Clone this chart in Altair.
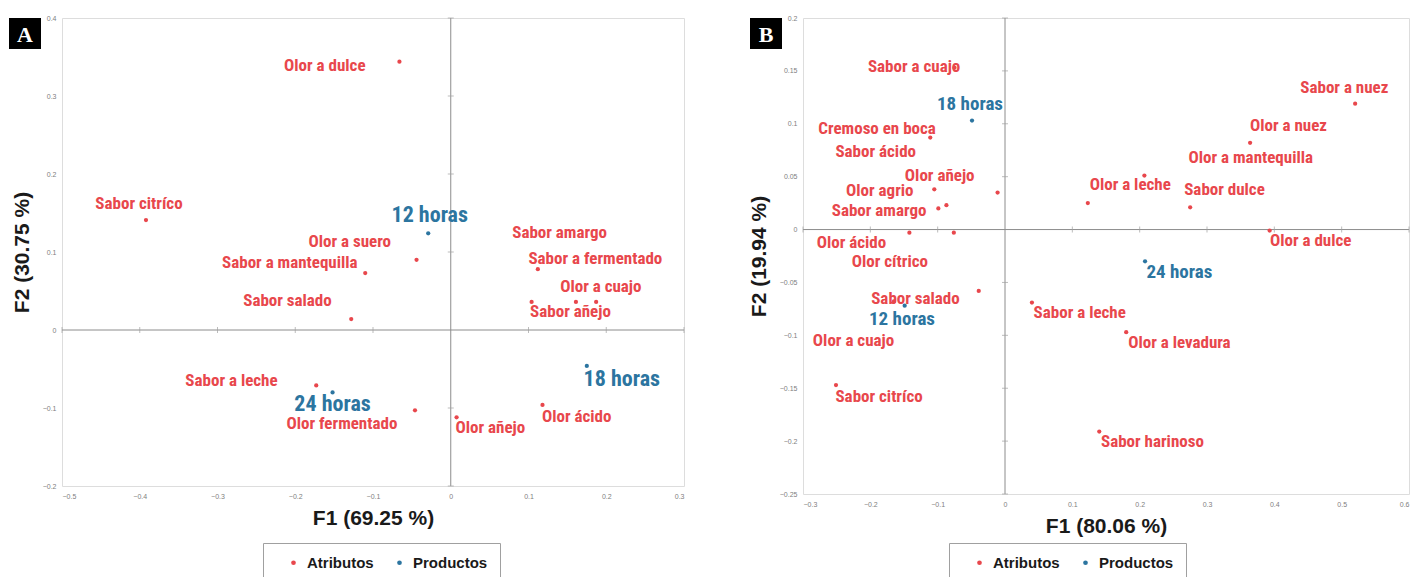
import altair as alt
import pandas as pd

# ---------------- Panel A data ----------------
A_attr_names = ["Olor a dulce", "Sabor citríco", "Olor a suero", "Sabor a mantequilla", "Sabor salado",
                "Sabor amargo", "Sabor a fermentado", "Olor a cuajo", "Sabor añejo",
                "Sabor a leche", "Olor fermentado", "Olor añejo", "Olor ácido"]
A_attr_x = [-0.066, -0.392, -0.044, -0.110, -0.128, 0.161, 0.112, 0.187, 0.104, -0.173, -0.046, 0.0075, 0.118]
A_attr_y = [0.344, 0.141, 0.090, 0.073, 0.014, 0.036, 0.078, 0.036, 0.036, -0.071, -0.103, -0.112, -0.096]
A_attr_lx = [-0.162, -0.401, -0.130, -0.207, -0.210, 0.140, 0.186, 0.193, 0.154, -0.282, -0.140, 0.051, 0.162]
A_attr_ly = [0.339, 0.162, 0.113, 0.086, 0.037, 0.125, 0.091, 0.055, 0.023, -0.066, -0.121, -0.126, -0.111]

A_prod_names = ["12 horas", "18 horas", "24 horas"]
A_prod_x = [-0.029, 0.175, -0.152]
A_prod_y = [0.124, -0.046, -0.080]
A_prod_lx = [-0.027, 0.220, -0.152]
A_prod_ly = [0.147, -0.063, -0.095]

A_xticks = [-0.5, -0.4, -0.3, -0.2, -0.1, 0, 0.1, 0.2, 0.3]
A_yticks = [-0.2, -0.1, 0, 0.1, 0.2, 0.3, 0.4]

# ---------------- Panel B data ----------------
B_attr_names = ["Sabor a cuajo", "Cremoso en boca", "Sabor ácido", "Olor añejo", "Olor agrio", "Sabor amargo",
                "Olor ácido", "Olor cítrico", "Sabor salado", "Olor a cuajo", "Sabor citríco",
                "Sabor a nuez", "Olor a nuez", "Olor a mantequilla", "Olor a leche", "Sabor dulce",
                "Olor a dulce", "Sabor a leche", "Olor a levadura", "Sabor harinoso"]
B_attr_x = [-0.075, -0.111, -0.087, -0.011, -0.105, -0.099, -0.142, -0.076, -0.165, -0.039, -0.251,
            0.520, 0.364, 0.207, 0.123, 0.275, 0.393, 0.040, 0.180, 0.140]
B_attr_y = [0.153, 0.087, 0.023, 0.035, 0.038, 0.020, -0.003, -0.003, -0.068, -0.058, -0.147,
            0.119, 0.082, 0.051, 0.025, 0.021, -0.001, -0.069, -0.097, -0.191]
B_attr_lx = [-0.135, -0.190, -0.192, -0.097, -0.186, -0.187, -0.228, -0.171, -0.133, -0.225, -0.187,
             0.504, 0.421, 0.365, 0.186, 0.326, 0.454, 0.111, 0.259, 0.219]
B_attr_ly = [0.154, 0.095, 0.073, 0.051, 0.036, 0.018, -0.013, -0.031, -0.066, -0.105, -0.158,
             0.134, 0.098, 0.068, 0.042, 0.037, -0.011, -0.079, -0.107, -0.201]

B_prod_names = ["18 horas", "24 horas", "12 horas"]
B_prod_x = [-0.049, 0.208, -0.149]
B_prod_y = [0.103, -0.030, -0.072]
B_prod_lx = [-0.052, 0.259, -0.153]
B_prod_ly = [0.119, -0.040, -0.085]

B_xticks = [-0.3, -0.2, -0.1, 0, 0.1, 0.2, 0.3, 0.4, 0.5, 0.6]
B_yticks = [-0.25, -0.2, -0.15, -0.1, -0.05, 0, 0.05, 0.1, 0.15, 0.2]

GROUPS = ["Atributos", "Productos"]
COLORS = ["#e8474c", "#2c75a0"]
LABEL_FONT = "Liberation Sans Narrow, Roboto Condensed, Liberation Sans, sans-serif"


def make_df(an, ax, ay, alx, aly, pn, px, py, plx, ply):
    rows = []
    for n, x, y, lx, ly in zip(an, ax, ay, alx, aly):
        rows.append({"name": n, "x": x, "y": y, "lx": lx, "ly": ly, "group": "Atributos"})
    for n, x, y, lx, ly in zip(pn, px, py, plx, ply):
        rows.append({"name": n, "x": x, "y": y, "lx": lx, "ly": ly, "group": "Productos"})
    return pd.DataFrame(rows)


def panel(df, letter, xdom, ydom, xticks, yticks, xtitle, ytitle, w, h, legx, prod_size):
    xs = alt.Scale(domain=xdom, nice=False, zero=False)
    ys = alt.Scale(domain=ydom, nice=False, zero=False)
    xaxis = alt.Axis(values=xticks, format="~g", labelFontSize=7, labelColor="#808080",
                     ticks=False, domain=False, grid=False, labelPadding=6, title=xtitle,
                     titleFontSize=21, titleFont="Liberation Sans", titleFontWeight="bold",
                     titleColor="#1a1a1a", titlePadding=8)
    yaxis = alt.Axis(values=yticks, format="~g", labelFontSize=7, labelColor="#808080",
                     ticks=False, domain=False, grid=False, labelPadding=6, title=ytitle,
                     titleFontSize=21, titleFont="Liberation Sans", titleFontWeight="bold",
                     titleColor="#1a1a1a", titlePadding=10)

    base = alt.Chart(df)
    points = base.mark_circle(size=18, opacity=1).encode(
        x=alt.X("x:Q", scale=xs, axis=xaxis),
        y=alt.Y("y:Q", scale=ys, axis=yaxis),
        color=alt.Color("group:N", scale=alt.Scale(domain=GROUPS, range=COLORS),
                        legend=alt.Legend(orient="none", legendX=legx, legendY=525, direction="horizontal",
                                          title=None, strokeColor="#a0a0a0", fillColor="white",
                                          padding=12, symbolOffset=11, symbolSize=22, symbolType="circle",
                                          labelFont="Liberation Sans", labelFontSize=15,
                                          labelFontWeight="bold", labelColor="#1a1a1a",
                                          labelOffset=6, columnPadding=7)),
    )
    attr_text = base.transform_filter(alt.datum.group == "Atributos").mark_text(
        font=LABEL_FONT, fontSize=17, fontWeight="bold", align="center", baseline="middle",
        color=COLORS[0]
    ).encode(x=alt.X("lx:Q", scale=xs), y=alt.Y("ly:Q", scale=ys), text="name:N")
    prod_text = base.transform_filter(alt.datum.group == "Productos").mark_text(
        font=LABEL_FONT, fontSize=prod_size, fontWeight="bold", align="center", baseline="middle",
        color=COLORS[1]
    ).encode(x=alt.X("lx:Q", scale=xs), y=alt.Y("ly:Q", scale=ys), text="name:N")

    vrule = alt.Chart(pd.DataFrame({"v": [0]})).mark_rule(color="#8c8c8c", strokeWidth=1).encode(
        x=alt.X("v:Q", scale=xs))
    hrule = alt.Chart(pd.DataFrame({"v": [0]})).mark_rule(color="#8c8c8c", strokeWidth=1).encode(
        y=alt.Y("v:Q", scale=ys))
    ytick_df = pd.DataFrame({"t": [v for v in yticks if v != 0], "z": 0})
    xtick_df = pd.DataFrame({"t": [v for v in xticks if v != 0], "z": 0})
    yt = alt.Chart(ytick_df).mark_tick(orient="horizontal", size=6, thickness=1, color="#a0a0a0").encode(
        x=alt.X("z:Q", scale=xs), y=alt.Y("t:Q", scale=ys))
    xt = alt.Chart(xtick_df).mark_tick(orient="vertical", size=6, thickness=1, color="#a0a0a0").encode(
        x=alt.X("t:Q", scale=xs), y=alt.Y("z:Q", scale=ys))

    ldf = pd.DataFrame({"l": [letter]})
    box = alt.Chart(ldf).mark_rect(color="black").encode(
        x=alt.value(-53), x2=alt.value(-21), y=alt.value(0), y2=alt.value(31))
    let = alt.Chart(ldf).mark_text(font="Liberation Serif", fontSize=22, fontWeight="bold",
                                   color="white", align="center", baseline="middle").encode(
        x=alt.value(-37), y=alt.value(16.5), text="l:N")

    return alt.layer(vrule, hrule, yt, xt, attr_text, prod_text, points, box, let).properties(
        width=w, height=h)


dfA = make_df(A_attr_names, A_attr_x, A_attr_y, A_attr_lx, A_attr_ly,
              A_prod_names, A_prod_x, A_prod_y, A_prod_lx, A_prod_ly)
dfB = make_df(B_attr_names, B_attr_x, B_attr_y, B_attr_lx, B_attr_ly,
              B_prod_names, B_prod_x, B_prod_y, B_prod_lx, B_prod_ly)

pA = panel(dfA, "A", [-0.5, 0.3], [-0.2, 0.4], A_xticks, A_yticks, "F1 (69.25 %)", "F2 (30.75 %)",
           622, 468, 201, 22)
pB = panel(dfB, "B", [-0.3, 0.6], [-0.25, 0.2], B_xticks, B_yticks, "F1 (80.06 %)", "F2 (19.94 %)",
           606, 476, 146, 19)

chart = alt.hconcat(pA, pB, spacing=62).resolve_scale(
    x="independent", y="independent", color="independent"
).resolve_legend(color="independent").properties(
    padding={"left": 0, "top": 5, "right": 0, "bottom": 0}
).configure_view(stroke="#d9d9d9", strokeWidth=1.5).configure(background="white")

chart.save("out.html", embed_options={"renderer": "svg", "actions": False})
